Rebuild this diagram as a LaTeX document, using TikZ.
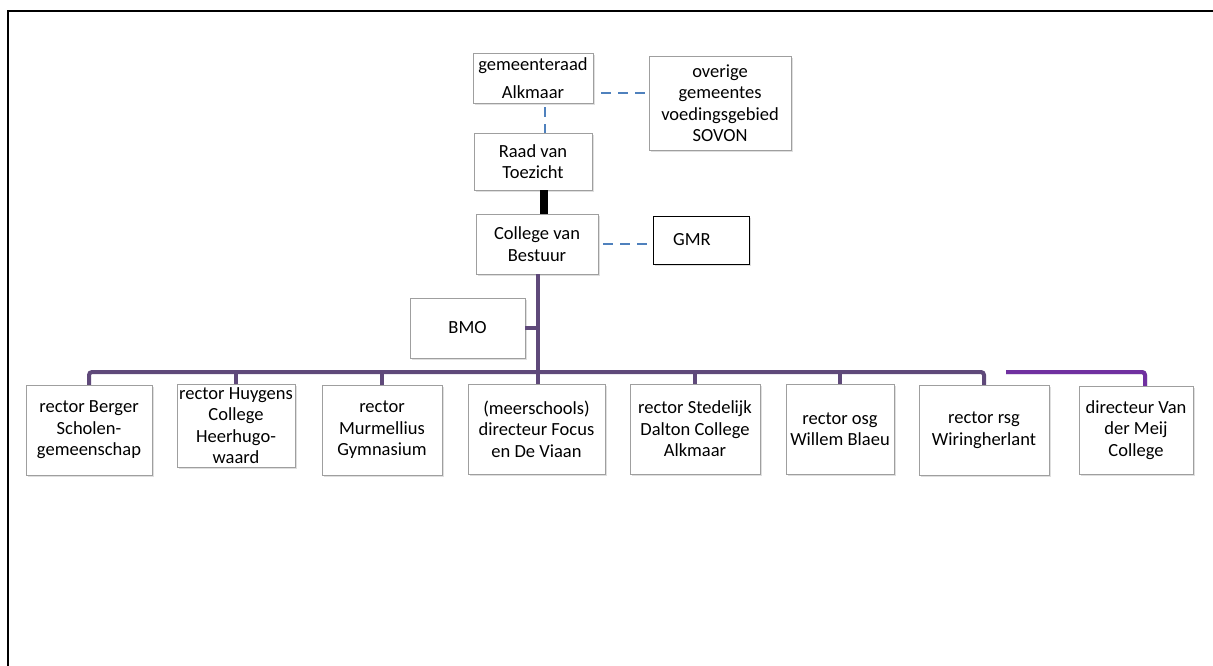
\documentclass[tikz,border=0pt]{standalone}
\usepackage{fontspec}
\setmainfont{Carlito}
\usetikzlibrary{positioning,calc,shadows}

\definecolor{treepurple}{HTML}{5F497A}
\definecolor{meijpurple}{HTML}{7030A0}
\definecolor{linkblue}{HTML}{4F81BD}

\tikzset{
  orgbox/.style={draw=gray!75, fill=white, align=center, inner sep=0pt,
    font=\fontsize{18.5}{21.5}\selectfont,
    drop shadow={shadow xshift=1.5pt, shadow yshift=-2pt, opacity=0.25}},
  link/.style={draw=linkblue, line width=2pt, dash pattern=on 10pt off 7pt},
  tree/.style={draw=treepurple, line width=4pt, rounded corners=3pt},
}

\begin{document}
\begin{tikzpicture}[x=1pt, y=-1pt]
    \useasboundingbox (0,0) rectangle (1213,666);

    % the frame
    \draw [line width=2pt] (8,666) -- (8,11) -- (1213,11);

    % top of the chart
    \node[orgbox, minimum width=120, minimum height=50] (gemeente) at (533,78) {gemeenteraad\\[7pt]Alkmaar};
    \node[orgbox, minimum width=142, minimum height=94] (overige) at (720,103) {overige\\gemeentes\\voedingsgebied\\SOVON};
    \node[orgbox, minimum width=118, minimum height=57] (raad) at (533,161.5) {Raad van\\Toezicht};
    \node[orgbox, minimum width=122, minimum height=60] (college) at (537,244) {College van\\Bestuur};
    \node[orgbox, draw=black, drop shadow={opacity=0}, minimum width=96, minimum height=48] (gmr) at (701,240) {\hspace*{-18pt}GMR};
    \node[orgbox, minimum width=115, minimum height=60] (bmo) at (467.5,328) {BMO};

    % the schools
    \node[orgbox, minimum width=126, minimum height=90] (berger) at (89,430) {rector Berger\\Scholen-\\gemeenschap};
    \node[orgbox, minimum width=118, minimum height=83] (huygens) at (236,425.5) {rector Huygens\\College\\Heerhugo-\\waard};
    \node[orgbox, minimum width=120, minimum height=90] (murm) at (382,430) {rector\\Murmellius\\Gymnasium};
    \node[orgbox, minimum width=137, minimum height=90] (meer) at (536.5,429) {(meerschools)\\directeur Focus\\en De Viaan};
    \node[orgbox, minimum width=130, minimum height=90] (dalton) at (695,429) {rector Stedelijk\\Dalton College\\Alkmaar};
    \node[orgbox, minimum width=108, minimum height=90] (blaeu) at (840,429) {rector osg\\Willem Blaeu};
    \node[orgbox, minimum width=130, minimum height=90] (wiring) at (984,430) {rector rsg\\Wiringherlant};
    \node[orgbox, minimum width=114, minimum height=88] (meij) at (1136,430) {directeur Van\\der Meij\\College};

    \coordinate (bus) at (538,372);
    \coordinate (meijbus) at (1006,372);

    % dashed links
    \draw[link, shorten <=8pt] ([yshift=-15pt]gemeente.east) -- ([yshift=-15pt]gemeente.east -| overige.west);
    \draw[link, shorten <=4pt] ([xshift=12pt]gemeente.south) -- ([xshift=12pt]raad.north);
    \draw[link, shorten <=5pt] (college.east) -- (college.east -| gmr.west);

    % board
    \draw[line width=8pt] ([xshift=11pt]raad.south) -- ([xshift=11pt]raad.south |- college.north);

    % the tree
    \draw[tree] (college.south -| bus) -- (meer.north -| bus);
    \draw[tree] (bmo.east) -- (bmo.east -| bus);
    \draw[tree] (berger.north) -- (berger.north |- bus) -- (wiring.north |- bus) -- (wiring.north);
    \foreach \school in {huygens, murm, dalton, blaeu}
        \draw[tree] (\school.north) -- (\school.north |- bus);

    % Van der Meij, with its shadow
    \draw[draw=black!30, line width=4pt, rounded corners=3pt, xshift=1pt, yshift=-2pt]
        (meijbus) -- ([xshift=9pt]meijbus -| meij.north) -- ([xshift=9pt]meij.north);
    \draw[draw=meijpurple, line width=4pt, rounded corners=3pt]
        (meijbus) -- ([xshift=9pt]meijbus -| meij.north) -- ([xshift=9pt]meij.north);
\end{tikzpicture}
\end{document}
